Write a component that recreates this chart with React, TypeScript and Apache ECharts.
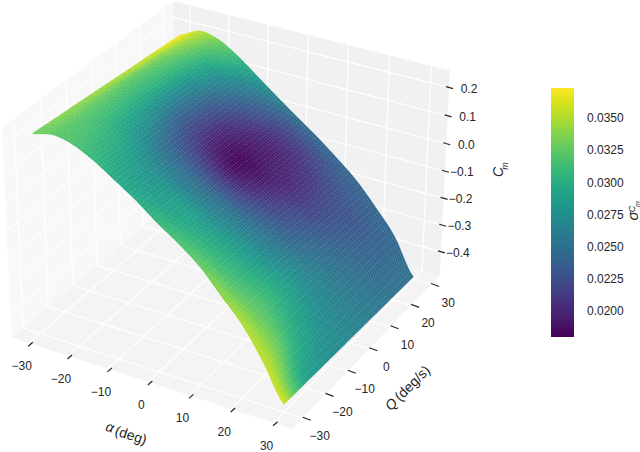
import React, { useEffect, useRef } from "react";
import * as echarts from "echarts";

// ---- data ----
const alphaSamples = [-30, -25, -20, -15, -10, -5, 0, 5, 10, 15, 20, 25, 30];
const qSamples = [-30, -25, -20, -15, -10, -5, 0, 5, 10, 15, 20, 25, 30];
// rows follow qSamples, columns follow alphaSamples
const cmRows = [
  [0.226, 0.242, 0.228, 0.193, 0.146, 0.098, 0.042, -0.008, -0.066, -0.145, -0.225, -0.335, -0.462],
  [0.222, 0.24, 0.226, 0.19, 0.142, 0.093, 0.038, -0.013, -0.07, -0.148, -0.228, -0.336, -0.464],
  [0.218, 0.237, 0.223, 0.187, 0.138, 0.089, 0.034, -0.016, -0.075, -0.151, -0.231, -0.338, -0.465],
  [0.215, 0.235, 0.221, 0.183, 0.135, 0.085, 0.029, -0.021, -0.08, -0.154, -0.234, -0.339, -0.467],
  [0.211, 0.232, 0.218, 0.18, 0.131, 0.08, 0.025, -0.025, -0.083, -0.156, -0.237, -0.34, -0.468],
  [0.207, 0.23, 0.216, 0.177, 0.127, 0.076, 0.021, -0.03, -0.088, -0.16, -0.239, -0.342, -0.47],
  [0.203, 0.227, 0.213, 0.174, 0.123, 0.071, 0.017, -0.035, -0.092, -0.163, -0.242, -0.343, -0.471],
  [0.199, 0.225, 0.21, 0.17, 0.119, 0.066, 0.013, -0.039, -0.097, -0.166, -0.245, -0.343, -0.473],
  [0.195, 0.222, 0.208, 0.167, 0.115, 0.063, 0.008, -0.043, -0.101, -0.169, -0.248, -0.345, -0.474],
  [0.192, 0.22, 0.205, 0.164, 0.112, 0.058, 0.004, -0.048, -0.106, -0.172, -0.251, -0.346, -0.476],
  [0.188, 0.217, 0.203, 0.161, 0.108, 0.053, 0, -0.052, -0.109, -0.174, -0.254, -0.347, -0.477],
  [0.184, 0.215, 0.2, 0.157, 0.104, 0.049, -0.004, -0.056, -0.114, -0.178, -0.257, -0.349, -0.479],
  [0.18, 0.212, 0.198, 0.155, 0.1, 0.045, -0.008, -0.06, -0.118, -0.18, -0.26, -0.35, -0.48],
];
const sigmaRows = [
  [0.033, 0.0325, 0.0318, 0.0308, 0.0298, 0.0298, 0.0308, 0.0318, 0.0328, 0.034, 0.035, 0.0355, 0.036],
  [0.0334, 0.0325, 0.0315, 0.0302, 0.029, 0.0288, 0.0295, 0.0302, 0.031, 0.032, 0.033, 0.0335, 0.032],
  [0.0338, 0.0325, 0.0312, 0.0297, 0.0282, 0.0278, 0.0285, 0.0288, 0.0295, 0.0305, 0.0315, 0.0312, 0.029],
  [0.034, 0.0325, 0.0308, 0.0285, 0.0265, 0.026, 0.0262, 0.0268, 0.0277, 0.0288, 0.03, 0.0295, 0.0282],
  [0.0342, 0.0325, 0.0305, 0.0277, 0.0248, 0.024, 0.0242, 0.0248, 0.0258, 0.027, 0.0285, 0.0282, 0.0275],
  [0.0345, 0.0325, 0.0303, 0.0268, 0.0235, 0.0218, 0.0212, 0.0222, 0.024, 0.0255, 0.027, 0.0272, 0.0272],
  [0.0348, 0.0325, 0.0302, 0.0262, 0.0225, 0.02, 0.0188, 0.0202, 0.0222, 0.024, 0.0258, 0.0265, 0.0268],
  [0.0351, 0.0327, 0.0303, 0.0262, 0.0225, 0.0196, 0.0182, 0.0192, 0.0212, 0.0232, 0.0248, 0.0258, 0.0264],
  [0.0355, 0.033, 0.0305, 0.0265, 0.023, 0.0202, 0.019, 0.0194, 0.0205, 0.0222, 0.024, 0.0252, 0.026],
  [0.0358, 0.0335, 0.0309, 0.0274, 0.024, 0.0213, 0.0198, 0.0198, 0.0208, 0.0222, 0.0235, 0.0246, 0.0256],
  [0.0362, 0.0342, 0.0315, 0.0282, 0.0252, 0.0228, 0.021, 0.0208, 0.0215, 0.0225, 0.0232, 0.0242, 0.0252],
  [0.0367, 0.035, 0.0323, 0.0298, 0.0268, 0.0245, 0.0228, 0.0224, 0.0228, 0.0234, 0.0237, 0.0242, 0.0251],
  [0.0372, 0.0355, 0.0333, 0.031, 0.0285, 0.0265, 0.025, 0.0245, 0.0243, 0.0242, 0.0242, 0.0245, 0.025],
];
const alphaTicks = [-30, -20, -10, 0, 10, 20, 30];
const qTicks = [-30, -20, -10, 0, 10, 20, 30];
const zTicks = [0.2, 0.1, 0, -0.1, -0.2, -0.3, -0.4];
const barTicks = [0.02, 0.0225, 0.025, 0.0275, 0.03, 0.0325, 0.035];
const SIGMA_MIN = 0.01798;
const SIGMA_MAX = 0.03736;
const viridis = [
  "#440154", "#481a6c", "#472f7d", "#414487", "#39568c", "#31688e", "#2a788e", "#23888e",
  "#1f988b", "#22a884", "#35b779", "#54c568", "#7ad151", "#a5db36", "#d2e21b", "#fde725",
];

// ---- view: the box is set by its corners in the page ----
const LIM = 34.4;
const Z_LO = -0.49;
const Z_HI = 0.26;
const corners: number[][] = [
  [0, 0, 0, 12, 338],
  [1, 0, 0, 292, 429],
  [1, 1, 0, 440, 275],
  [0, 1, 0, 175, 199],
  [0, 0, 1, 2, 127],
  [0, 1, 1, 173, 1],
  [1, 1, 1, 450, 71],
];
function fitView(): number[] {
  const A: number[][] = [];
  const b: number[] = [];
  for (const [u, v, w, x, y] of corners) {
    A.push([1, u, v, w, 0, 0, 0, 0, -x * u, -x * v, -x * w]);
    b.push(x);
    A.push([0, 0, 0, 0, 1, u, v, w, -y * u, -y * v, -y * w]);
    b.push(y);
  }
  const n = 11;
  const M: number[][] = [];
  for (let i = 0; i < n; i++) {
    const row: number[] = [];
    for (let j = 0; j < n; j++) {
      let s = 0;
      for (let k = 0; k < A.length; k++) s += A[k][i] * A[k][j];
      row.push(s);
    }
    let s = 0;
    for (let k = 0; k < A.length; k++) s += A[k][i] * b[k];
    row.push(s);
    M.push(row);
  }
  for (let i = 0; i < n; i++) {
    let p = i;
    for (let r = i + 1; r < n; r++) if (Math.abs(M[r][i]) > Math.abs(M[p][i])) p = r;
    [M[i], M[p]] = [M[p], M[i]];
    for (let r = 0; r < n; r++) {
      if (r === i) continue;
      const f = M[r][i] / M[i][i];
      for (let c = i; c <= n; c++) M[r][c] -= f * M[i][c];
    }
  }
  return M.map((r, i) => r[n] / r[i]);
}
const H = fitView();
function projectBox(u: number, v: number, w: number): number[] {
  const d = 1 + H[8] * u + H[9] * v + H[10] * w;
  return [(H[0] + H[1] * u + H[2] * v + H[3] * w) / d, (H[4] + H[5] * u + H[6] * v + H[7] * w) / d];
}
const toU = (a: number) => (a + LIM) / (2 * LIM);
const toW = (z: number) => (z - Z_LO) / (Z_HI - Z_LO);
const project = (a: number, q: number, z: number) => projectBox(toU(a), toU(q), toW(z));

function colorOf(s: number): string {
  const t = Math.max(0, Math.min(1, (s - SIGMA_MIN) / (SIGMA_MAX - SIGMA_MIN))) * (viridis.length - 1);
  const i = Math.min(viridis.length - 2, Math.floor(t));
  const f = t - i;
  const hex = (c: string, k: number) => parseInt(c.substr(1 + 2 * k, 2), 16);
  const m = [0, 1, 2].map((k) => Math.round(hex(viridis[i], k) * (1 - f) + hex(viridis[i + 1], k) * f));
  return `rgb(${m[0]},${m[1]},${m[2]})`;
}

// smooth shading of the measured table between its nodes (passes through every node)
function cr(p0: number, p1: number, p2: number, p3: number, t: number) {
  return 0.5 * (2 * p1 + (p2 - p0) * t + (2 * p0 - 5 * p1 + 4 * p2 - p3) * t * t + (3 * p1 - p0 - 3 * p2 + p3) * t * t * t);
}
function shade(table: number[][], i: number, j: number, fa: number, fq: number) {
  const last = table.length - 1;
  const cl = (k: number) => Math.max(0, Math.min(last, k));
  const rowAt = (r: number) => {
    const R = table[cl(r)];
    return cr(R[cl(i - 1)], R[i], R[cl(i + 1)], R[cl(i + 2)], fa);
  };
  return cr(rowAt(j - 1), rowAt(j), rowAt(j + 1), rowAt(j + 2), fq);
}

const FONT = "'Liberation Sans', Arial, sans-serif";
const INK = "#262626";
const SHADE = 6;

// panes
const paneData = [
  { pts: [[0, 0, 0], [0, 1, 0], [0, 1, 1], [0, 0, 1]], fill: "#f8f8f8" },
  { pts: [[0, 1, 0], [1, 1, 0], [1, 1, 1], [0, 1, 1]], fill: "#f1f1f1" },
  { pts: [[0, 0, 0], [1, 0, 0], [1, 1, 0], [0, 1, 0]], fill: "#f4f4f4" },
];
// grid segments in box coordinates
const gridSegments: number[][] = [];
alphaTicks.forEach((a) => {
  gridSegments.push([toU(a), 0, 0, toU(a), 1, 0]);
  gridSegments.push([toU(a), 1, 0, toU(a), 1, 1]);
});
qTicks.forEach((q) => {
  gridSegments.push([0, toU(q), 0, 1, toU(q), 0]);
  gridSegments.push([0, toU(q), 0, 0, toU(q), 1]);
});
zTicks.forEach((z) => {
  gridSegments.push([0, 0, toW(z), 0, 1, toW(z)]);
  gridSegments.push([0, 1, toW(z), 1, 1, toW(z)]);
});

const cellOrder: number[][] = [];
for (let j = qSamples.length - 2; j >= 0; j--) {
  for (let i = 0; i < alphaSamples.length - 1; i++) cellOrder.push([i, j]);
}

const txt = (text: string, x: number, y: number, size = 12, rotation = 0, style = "normal") => ({
  type: "text",
  x,
  y,
  rotation,
  style: { text, fill: INK, fontFamily: FONT, fontSize: size, fontStyle: style, align: "center", verticalAlign: "middle" },
  silent: true,
});
const fmt = (v: number, d: number) => (v < 0 ? "\u2212" : "") + Math.abs(v).toFixed(d);

const tickMarks: any[] = [];
alphaTicks.forEach((a) => {
  const p = projectBox(toU(a), 0, 0);
  tickMarks.push({ line: [p[0] - 0.5, p[1] + 3, p[0] + 4, p[1] - 1], label: String(a).replace("-", "\u2212"), at: [p[0] - 7, p[1] + 23] });
});
qTicks.forEach((q) => {
  const p = projectBox(1, toU(q), 0);
  tickMarks.push({ line: [p[0] + 0, p[1] - 1, p[0] + 8, p[1] + 2], label: String(q).replace("-", "\u2212"), at: [p[0] + 17, p[1] + 18] });
});
zTicks.forEach((z) => {
  const p = projectBox(1, 1, toW(z));
  tickMarks.push({ line: [p[0] - 3, p[1] - 1, p[0] + 4, p[1] + 1], label: fmt(z, 1), at: [p[0] + 20 - (z < 0 ? 3 : 0), p[1] + 1] });
});

export default function App() {
  const ref = useRef<HTMLDivElement>(null);
  useEffect(() => {
    document.body.style.margin = "0";
    const chart = echarts.init(ref.current!, undefined, { renderer: "svg" });
    chart.setOption({
      animation: false,
      backgroundColor: "#ffffff",
      grid: { left: 551, top: 88, width: 23, height: 249 },
      xAxis: { type: "value", min: 0, max: 1, show: false },
      yAxis: {
        type: "value",
        min: SIGMA_MIN,
        max: SIGMA_MAX,
        position: "right",
        axisLine: { show: false },
        splitLine: { show: false },
        axisTick: { show: true, length: 8, customValues: barTicks, lineStyle: { color: INK, width: 1.3 } },
        axisLabel: {
          customValues: barTicks,
          margin: 13,
          color: INK,
          fontSize: 12,
          fontFamily: FONT,
          formatter: (v: number) => v.toFixed(4),
        },
      },
      series: [
        {
          type: "custom",
          coordinateSystem: "none",
          silent: true,
          data: paneData.map((_, i) => [i]),
          renderItem: (_: any, api: any) => {
            const p = paneData[api.value(0)];
            return {
              type: "polygon",
              shape: { points: p.pts.map((c) => projectBox(c[0], c[1], c[2])) },
              style: { fill: p.fill },
            };
          },
        },
        {
          type: "custom",
          coordinateSystem: "none",
          silent: true,
          data: gridSegments,
          renderItem: (_: any, api: any) => {
            const a = projectBox(api.value(0), api.value(1), api.value(2));
            const b = projectBox(api.value(3), api.value(4), api.value(5));
            return {
              type: "line",
              shape: { x1: a[0], y1: a[1], x2: b[0], y2: b[1] },
              style: { stroke: "#ffffff", lineWidth: 1.2 },
            };
          },
        },
        {
          type: "custom",
          coordinateSystem: "none",
          silent: true,
          data: tickMarks.map((_, i) => [i]),
          renderItem: (_: any, api: any) => {
            const t = tickMarks[api.value(0)];
            return {
              type: "group",
              children: [
                {
                  type: "line",
                  shape: { x1: t.line[0], y1: t.line[1], x2: t.line[2], y2: t.line[3] },
                  style: { stroke: INK, lineWidth: 1.2 },
                },
                txt(t.label, t.at[0], t.at[1]),
              ],
            };
          },
        },
        {
          type: "custom",
          coordinateSystem: "none",
          silent: true,
          data: cellOrder,
          renderItem: (_: any, api: any) => {
            const i = api.value(0);
            const j = api.value(1);
            const children: any[] = [];
            const at = (fa: number, fq: number) => {
              const a = alphaSamples[i] * (1 - fa) + alphaSamples[i + 1] * fa;
              const q = qSamples[j] * (1 - fq) + qSamples[j + 1] * fq;
              return project(a, q, shade(cmRows, i, j, fa, fq));
            };
            for (let b = SHADE - 1; b >= 0; b--) {
              for (let c = 0; c < SHADE; c++) {
                const fa = c / SHADE;
                const fb = b / SHADE;
                const d = 1 / SHADE;
                const col = colorOf(shade(sigmaRows, i, j, fa + d / 2, fb + d / 2));
                children.push({
                  type: "polygon",
                  shape: { points: [at(fa, fb), at(fa + d, fb), at(fa + d, fb + d), at(fa, fb + d)] },
                  style: { fill: col, stroke: col, lineWidth: 0.25 },
                });
              }
            }
            return { type: "group", children };
          },
        },
        {
          type: "custom",
          coordinateSystem: "cartesian2d",
          silent: true,
          data: [[0, SIGMA_MIN, 1, SIGMA_MAX]],
          renderItem: (_: any, api: any) => {
            const a = api.coord([api.value(0), api.value(1)]);
            const b = api.coord([api.value(2), api.value(3)]);
            return {
              type: "rect",
              shape: { x: a[0], y: b[1], width: b[0] - a[0], height: a[1] - b[1] },
              style: {
                fill: new echarts.graphic.LinearGradient(
                  0,
                  1,
                  0,
                  0,
                  viridis.map((color, k) => ({ offset: k / (viridis.length - 1), color }))
                ),
              },
            };
          },
        },
      ],
      graphic: {
        elements: [
          txt("\u03b1", 110, 427, 14, -0.31, "italic"),
          txt("(deg)", 131, 435, 14, -0.31),
          txt("Q", 391, 404, 14, Math.PI / 4, "italic"),
          txt("(deg/s)", 412, 383, 14, Math.PI / 4),
          txt("C", 498, 172, 14, Math.PI / 2, "italic"),
          txt("m", 505, 166, 9, Math.PI / 2, "italic"),
          txt("\u03c3", 632, 216, 15, Math.PI / 2, "italic"),
          txt("C", 632, 209, 9, Math.PI / 2, "italic"),
          txt("m", 637, 204, 7, Math.PI / 2, "italic"),
        ],
      },
    });
    return () => chart.dispose();
  }, []);
  return <div ref={ref} style={{ position: "absolute", left: 0, top: 0, width: 640, height: 452 }} />;
}
